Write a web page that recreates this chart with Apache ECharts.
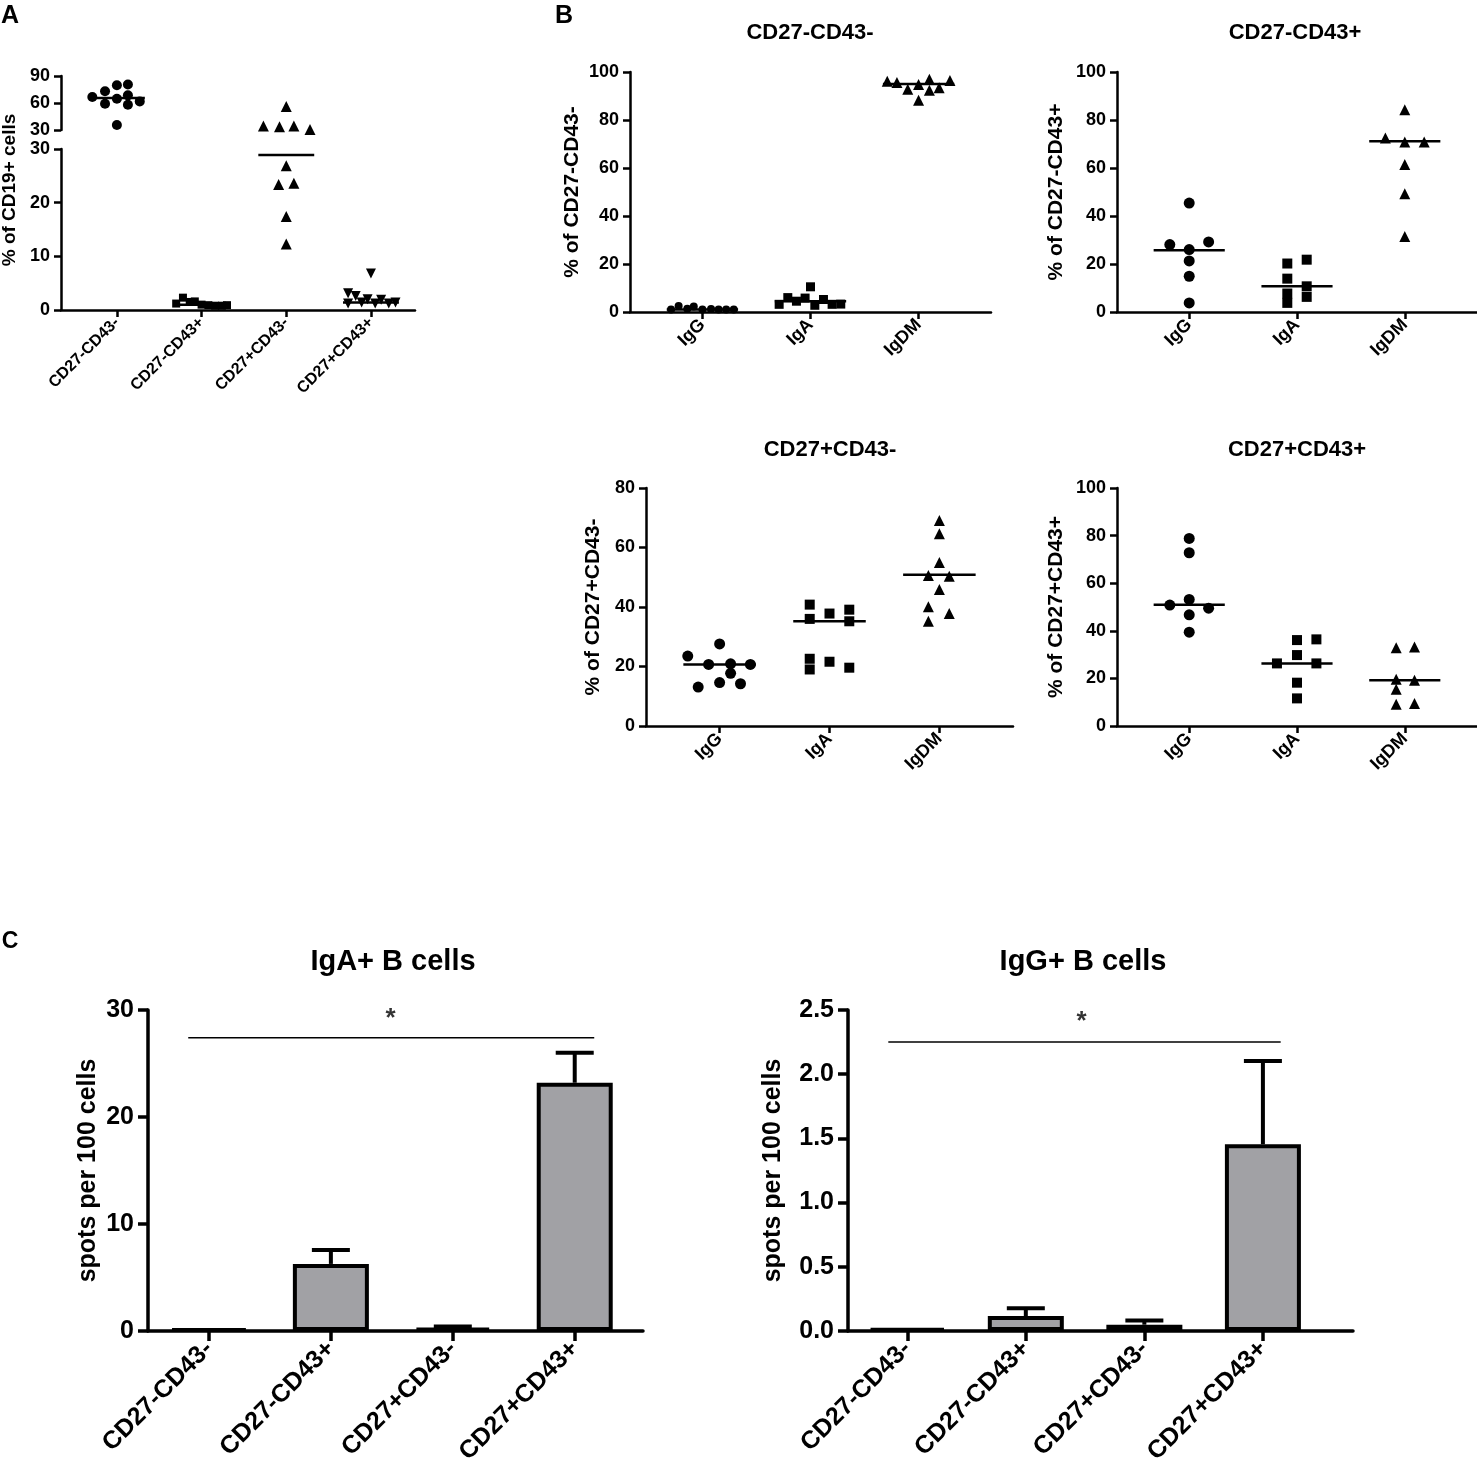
<!DOCTYPE html>
<html>
<head>
<meta charset="utf-8">
<script src="https://cdn.jsdelivr.net/npm/echarts@6/dist/echarts.min.js"></script>
<style>
html, body { margin: 0; background: #fff; }
#chart { width: 1477px; height: 1467px; }
</style>
</head>
<body>
<div id="chart"></div>
<script>
var FONT = 'Arial, "Liberation Sans", sans-serif';

// ---- panel A: % of CD19+ cells ----
var catsA = ['CD27-CD43-', 'CD27-CD43+', 'CD27+CD43-', 'CD27+CD43+'];
var a0Vals = [66.7, 73, 59.2, 79.8, 64.8, 80.6, 68.5, 58.1, 61.8, 35.6];
var a0Offs = [-0.29, -0.14, -0.14, 0, 0, 0.13, 0.13, 0.13, 0.27, 0];
var a1Vals = [1.2, 2.3, 1.5, 1.6, 1.0, 0.9, 0.8, 0.8, 0.9];
var a1Offs = [-0.30, -0.22, -0.14, -0.08, 0, 0.08, 0.16, 0.24, 0.30];
var a2Vals = [56.2, 34.5, 33.7, 34.5, 30.5, 26.9, 23.4, 23.6, 17.4, 12.3];
var a2Offs = [0, -0.27, -0.08, 0.09, 0.28, 0, -0.09, 0.09, 0, 0];
var a3Vals = [6.8, 3.1, 2.6, 1.4, 2.0, 1.2, 1.9, 1.2, 1.4, 1.2];
var a3Offs = [0, -0.27, -0.18, -0.11, -0.04, 0.05, 0.12, 0.21, 0.29, -0.27];
var mediansA = [65.5, 1.0, 28.9, 1.4];
var ticksAlow = [0, 30, 10];   // min, max, interval
var ticksAup = [30, 90, 30];

// ---- panel B: isotype split per subset ----
var catsB = ['IgG', 'IgA', 'IgDM'];
var b1Title = 'CD27-CD43-';
var b1IgG = [1.0, 2.5, 1.4, 2.3, 1.0, 1.2, 1.0, 1.0, 1.0];
var b1IgGOffs = [-0.29, -0.22, -0.14, -0.08, 0, 0.08, 0.15, 0.22, 0.29];
var b1IgA = [3.2, 6, 4.5, 5.8, 10.5, 2.8, 5.2, 3.2, 3.3];
var b1IgAOffs = [-0.29, -0.21, -0.13, -0.05, 0, 0.04, 0.12, 0.2, 0.28];
var b1IgDM = [96.1, 95.6, 92.8, 94.8, 88.2, 97, 92.4, 93.4, 96.5];
var b1IgDMOffs = [-0.29, -0.2, -0.1, 0, 0, 0.1, 0.1, 0.19, 0.29];
var b1Medians = [1.0, 4.5, 95.0];

var b2Title = 'CD27-CD43+';
var b2IgG = [45.4, 28.1, 29.2, 26, 21.3, 14.9, 3.8];
var b2IgGOffs = [0, -0.18, 0.18, 0, 0, 0, 0];
var b2IgA = [20.2, 21.8, 13.9, 10.7, 7.7, 6.3, 3.8];
var b2IgAOffs = [-0.09, 0.09, -0.09, 0.09, -0.09, 0.09, -0.09];
var b2IgDM = [84.3, 72.5, 70.8, 70.8, 61.5, 49.3, 31.5];
var b2IgDMOffs = [0, -0.18, 0, 0.18, 0, 0, 0];
var b2Medians = [25.7, 10.7, 71.1];

var b3Title = 'CD27+CD43-';
var b3IgG = [23.5, 27.6, 20.7, 20.9, 20.7, 17.7, 13.1, 14.6, 14.2];
var b3IgGOffs = [-0.29, 0, -0.1, 0.1, 0.28, 0.1, -0.195, 0, 0.19];
var b3IgA = [40.8, 36, 37.8, 39.1, 35.2, 22.6, 19, 21.6, 19.6];
var b3IgAOffs = [-0.18, -0.18, 0, 0.18, 0.18, -0.18, -0.18, 0, 0.18];
var b3IgDM = [69.1, 64.6, 55, 50.6, 50.3, 45.9, 40.1, 37.8, 35.2];
var b3IgDMOffs = [0, 0, 0, -0.1, 0.09, 0, -0.1, 0.09, -0.1];
var b3Medians = [20.7, 35.2, 50.8];

var b4Title = 'CD27+CD43+';
var b4IgG = [78.8, 72.8, 50.8, 53.2, 49.5, 46.7, 39.4];
var b4IgGOffs = [0, 0, -0.18, 0, 0.18, 0, 0];
var b4IgA = [36.1, 36.4, 29.8, 26.3, 26.3, 18.2, 11.6];
var b4IgAOffs = [0, 0.18, 0, -0.186, 0.18, 0, 0];
var b4IgDM = [32.9, 33.2, 19.6, 19.2, 15.4, 9.1, 9.5];
var b4IgDMOffs = [-0.08, 0.09, -0.08, 0.09, -0.08, -0.08, 0.09];
var b4Medians = [50.9, 26.3, 19.2];

// ---- panel C: ELISpot ----
var catsC = ['CD27-CD43-', 'CD27-CD43+', 'CD27+CD43-', 'CD27+CD43+'];
var igaMeans = [0.2, 6.27, 0.3, 23.2];
var igaErrTop = [0.2, 7.57, 0.42, 26.0];
var iggMeans = [0.02, 0.116, 0.049, 1.454];
var iggErrTop = [0.02, 0.178, 0.081, 2.103];
var igaSig = { from: -0.17, to: 3.16, y: 27.4, starX: 1.49, starY: 29.2 };
var iggSig = { from: -0.16, to: 3.15, y: 2.25, starX: 1.47, starY: 2.41 };

// ---------------------------------------------------------------
var grids = [], xAxes = [], yAxes = [], series = [], graphics = [];

function pts(cat, vals, offs) {
    return vals.map(function (v, i) { return [cat + offs[i], v]; });
}

function addGrid(box, xMin, xMax, labels, yMin, yMax, yInt, opt) {
    var idx = grids.length;
    grids.push({ left: box[0], top: box[1], width: box[2], height: box[3] });
    var lw = opt.lineWidth;
    var ticks = labels.map(function (l, i) { return i; });
    xAxes.push({
        gridIndex: idx, type: 'value', min: xMin, max: xMax,
        show: opt.showX !== false,
        splitLine: { show: false },
        axisLine: { onZero: false, lineStyle: { color: '#000', width: lw } },
        axisTick: { length: opt.tick, lineStyle: { color: '#000', width: lw }, customValues: ticks },
        axisLabel: {
            customValues: ticks, rotate: 45, margin: opt.xMargin,
            color: '#000', fontWeight: 'bold', fontSize: opt.xFont, fontFamily: FONT,
            formatter: function (v) { return labels[Math.round(v)]; }
        }
    });
    yAxes.push({
        gridIndex: idx, type: 'value', min: yMin, max: yMax, interval: yInt,
        splitLine: { show: false },
        axisLine: { show: true, onZero: false, lineStyle: { color: '#000', width: lw } },
        axisTick: { show: true, length: opt.tick, lineStyle: { color: '#000', width: lw } },
        axisLabel: {
            color: '#000', fontWeight: 'bold', fontSize: opt.yFont, fontFamily: FONT, margin: opt.yMargin,
            formatter: opt.yFmt || function (v) { return String(v); }
        }
    });
    return idx;
}

function addScatter(g, data, symbol, size, rot) {
    series.push({
        type: 'scatter', xAxisIndex: g, yAxisIndex: g, data: data,
        symbol: symbol, symbolSize: size, symbolRotate: rot || 0, clip: false,
        itemStyle: { color: '#000', opacity: 1 }, z: 3
    });
}

function addMedian(g, cat, m, half, width) {
    series.push({
        type: 'line', xAxisIndex: g, yAxisIndex: g, data: [[cat - half, m], [cat + half, m]],
        symbol: 'none', lineStyle: { color: '#000', width: width }, z: 4, silent: true
    });
}

function text(x, y, str, size, rot) {
    graphics.push({
        type: 'text', x: x, y: y, rotation: rot || 0,
        style: {
            text: str, fill: '#000', textAlign: 'center', textVerticalAlign: 'middle',
            font: 'bold ' + size + 'px ' + FONT
        }
    });
}

// panel A (broken y axis -> two grids)
var optA = { lineWidth: 2.5, tick: 7, xFont: 16, yFont: 18, xMargin: 10, yMargin: 11 };
var gAu = addGrid([61, 76, 354, 54], -0.66, 3.52, catsA, ticksAup[0], ticksAup[1], ticksAup[2],
    Object.assign({}, optA, { showX: false }));
var gAl = addGrid([61, 149, 354, 161], -0.66, 3.52, catsA, ticksAlow[0], ticksAlow[1], ticksAlow[2], optA);

var groupsA = [[a0Vals, a0Offs, 'circle', 10, 0], [a1Vals, a1Offs, 'rect', 8, 0],
    [a2Vals, a2Offs, 'triangle', 11, 0], [a3Vals, a3Offs, 'triangle', 10, 180]];
groupsA.forEach(function (gr, c) {
    var all = pts(c, gr[0], gr[1]);
    var up = all.filter(function (p) { return p[1] >= 30; });
    var lo = all.filter(function (p) { return p[1] < 30; });
    if (up.length) addScatter(gAu, up, gr[2], gr[3], gr[4]);
    if (lo.length) addScatter(gAl, lo, gr[2], gr[3], gr[4]);
    addMedian(mediansA[c] >= 30 ? gAu : gAl, c, mediansA[c], 0.33, 2.5);
});
text(10, 16, 'A', 25);
text(10, 190, '% of CD19+ cells', 19, Math.PI / 2);

// panel B
var optB = { lineWidth: 2.5, tick: 7, xFont: 18, yFont: 18, xMargin: 10, yMargin: 11 };
var panelsB = [
    { box: [630, 72, 361, 240], yMax: 100, title: b1Title, tx: 810, ty: 33, nx: 572,
      sets: [[b1IgG, b1IgGOffs], [b1IgA, b1IgAOffs], [b1IgDM, b1IgDMOffs]], med: b1Medians, sizes: [8, 9, 11] },
    { box: [1117, 72, 360, 240], yMax: 100, title: b2Title, tx: 1295, ty: 33, nx: 1056,
      sets: [[b2IgG, b2IgGOffs], [b2IgA, b2IgAOffs], [b2IgDM, b2IgDMOffs]], med: b2Medians, sizes: [11, 10, 11] },
    { box: [646, 488, 367, 238], yMax: 80, title: b3Title, tx: 830, ty: 450, nx: 593,
      sets: [[b3IgG, b3IgGOffs], [b3IgA, b3IgAOffs], [b3IgDM, b3IgDMOffs]], med: b3Medians, sizes: [11, 10, 11] },
    { box: [1117, 488, 360, 238], yMax: 100, title: b4Title, tx: 1297, ty: 450, nx: 1056,
      sets: [[b4IgG, b4IgGOffs], [b4IgA, b4IgAOffs], [b4IgDM, b4IgDMOffs]], med: b4Medians, sizes: [11, 10, 11] }
];
var symbolsB = ['circle', 'rect', 'triangle'];
panelsB.forEach(function (p) {
    var g = addGrid(p.box, -0.67, 2.67, catsB, 0, p.yMax, 20, optB);
    p.sets.forEach(function (s, c) {
        addScatter(g, pts(c, s[0], s[1]), symbolsB[c], p.sizes[c]);
        addMedian(g, c, p.med[c], 0.33, 2.5);
    });
    text(p.tx, p.ty, p.title, 22);
    text(p.nx, p.box[1] + p.box[3] / 2, '% of ' + p.title, 21, Math.PI / 2);
});
text(564, 16, 'B', 25);

// panel C (bars with upper SEM + significance bracket)
var optC = { lineWidth: 3.5, tick: 10, xFont: 25, yFont: 25, xMargin: 14, yMargin: 14 };
var panelsC = [
    { box: [148, 1010, 495, 321], xMax: 3.56, yMax: 30, yInt: 10, means: igaMeans, tops: igaErrTop,
      sig: igaSig, title: 'IgA+ B cells', tx: 393, nx: 88, fmt: null },
    { box: [848, 1010, 505, 321], xMax: 3.76, yMax: 2.5, yInt: 0.5, means: iggMeans, tops: iggErrTop,
      sig: iggSig, title: 'IgG+ B cells', tx: 1083, nx: 773, fmt: function (v) { return v.toFixed(1); } }
];
panelsC.forEach(function (p) {
    var g = addGrid(p.box, -0.5, p.xMax, catsC, 0, p.yMax, p.yInt, Object.assign({}, optC, { yFmt: p.fmt }));
    series.push({
        type: 'bar', xAxisIndex: g, yAxisIndex: g, barWidth: 76,
        data: p.means.map(function (m, i) { return [i, m]; }),
        itemStyle: { color: '#a1a1a5', borderColor: '#000', borderWidth: 4 }, z: 2
    });
    series.push({
        type: 'custom', xAxisIndex: g, yAxisIndex: g, z: 3,
        data: p.means.map(function (m, i) { return [i, m, p.tops[i]]; })
            .filter(function (d) { return d[2] > d[1]; }),
        encode: { x: 0, y: [1, 2] },
        renderItem: function (params, api) {
            var a = api.coord([api.value(0), api.value(1)]);
            var b = api.coord([api.value(0), api.value(2)]);
            var st = { stroke: '#000', lineWidth: 4 };
            return { type: 'group', children: [
                { type: 'line', shape: { x1: a[0], y1: a[1], x2: b[0], y2: b[1] }, style: st },
                { type: 'line', shape: { x1: b[0] - 19, y1: b[1], x2: b[0] + 19, y2: b[1] }, style: st }
            ] };
        }
    });
    series.push({
        type: 'line', xAxisIndex: g, yAxisIndex: g, symbol: 'none', silent: true,
        data: [[p.sig.from, p.sig.y], [p.sig.to, p.sig.y]],
        lineStyle: { color: '#000', width: 1.5 }
    });
    series.push({
        type: 'scatter', xAxisIndex: g, yAxisIndex: g, symbolSize: 1, silent: true,
        data: [[p.sig.starX, p.sig.starY]], itemStyle: { color: 'rgba(0,0,0,0)' },
        label: { show: true, position: 'inside', formatter: '*', color: '#000',
                 fontSize: 26, fontWeight: 'bold', fontFamily: FONT }
    });
    text(p.tx, 962, p.title, 29);
    text(p.nx, p.box[1] + p.box[3] / 2, 'spots per 100 cells', 25, Math.PI / 2);
});
text(10, 942, 'C', 23);

var chart = echarts.init(document.getElementById('chart'), null, { renderer: 'canvas' });
chart.setOption({
    animation: false,
    backgroundColor: '#fff',
    grid: grids,
    xAxis: xAxes,
    yAxis: yAxes,
    series: series,
    graphic: graphics
});
</script>
</body>
</html>
